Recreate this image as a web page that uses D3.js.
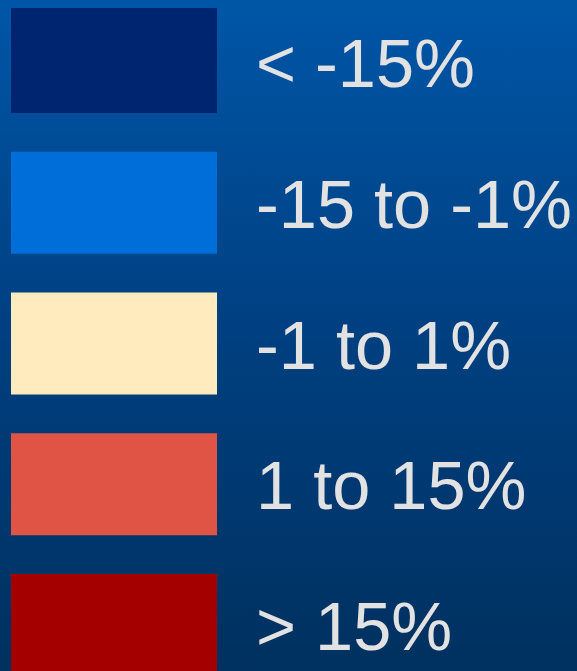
<!DOCTYPE html>
<html>
<head>
<meta charset="utf-8">
<script src="https://cdn.jsdelivr.net/npm/d3@7"></script>
<style>
  html, body { margin: 0; padding: 0; background: #003366; }
  svg { display: block; }
</style>
</head>
<body>
<svg id="legend" width="577" height="671"></svg>
<script>
// Legend classes for percentage change
const labels = ["< -15%", "-15 to -1%", "-1 to 1%", "1 to 15%", "> 15%"];
const colors = ["#002570", "#006ed8", "#ffebbe", "#e05446", "#a50000"];

const width = 577, height = 671;
const svg = d3.select("#legend");

// Background: vertical blue gradient
const defs = svg.append("defs");
const grad = defs.append("linearGradient")
  .attr("id", "bg").attr("x1", 0).attr("y1", 0).attr("x2", 0).attr("y2", 1);
grad.append("stop").attr("offset", "0%").attr("stop-color", "#0056a7");
grad.append("stop").attr("offset", "50%").attr("stop-color", "#003f80");
grad.append("stop").attr("offset", "100%").attr("stop-color", "#00315f");
svg.append("rect").attr("width", width).attr("height", height).attr("fill", "url(#bg)");

// Row centres
const y = d3.scalePoint().domain(labels).range([62, 625]);
const swatchH = 102, swatchX = 11, swatchW = 206;

const rows = svg.selectAll("g.row")
  .data(labels.map((l, i) => ({ label: l, color: colors[i] })))
  .join("g")
  .attr("class", "row")
  .attr("transform", d => `translate(0,${y(d.label)})`);

rows.append("rect")
  .attr("x", swatchX)
  .attr("y", (d, i) => i === 0 ? -swatchH / 2 - 3 : -swatchH / 2)
  .attr("width", swatchW)
  .attr("height", (d, i) => i === 0 ? swatchH + 3 : swatchH)
  .attr("fill", d => d.color);

rows.append("text")
  .attr("x", 256)
  .attr("y", 25)
  .attr("fill", "#e2e2e2")
  .style("font-family", "'Liberation Sans', Arial, sans-serif")
  .style("font-size", "68.5px")
  .text(d => d.label);
</script>
</body>
</html>
